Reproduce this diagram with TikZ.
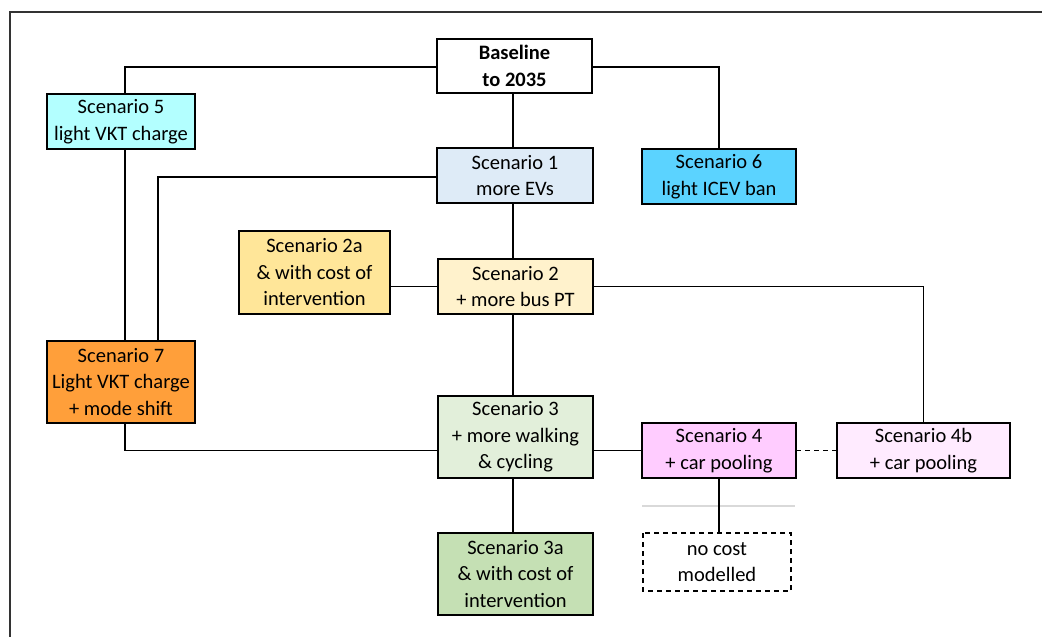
\documentclass[tikz,border=0pt]{standalone}
\usepackage{fontspec}
\setmainfont{Carlito}
\definecolor{cS5}{HTML}{B3FFFF}
\definecolor{cS1}{HTML}{DEEBF7}
\definecolor{cS6}{HTML}{5BD3FF}
\definecolor{cS2a}{HTML}{FFE699}
\definecolor{cS2}{HTML}{FFF2CC}
\definecolor{cS7}{HTML}{FF9F3A}
\definecolor{cS3}{HTML}{E2EFDA}
\definecolor{cS3a}{HTML}{C5E0B4}
\definecolor{cS4}{HTML}{FFCCFF}
\definecolor{cS4b}{HTML}{FFEBFF}
\definecolor{frame}{HTML}{333333}
\definecolor{sep}{HTML}{D9D9D9}
\begin{document}
\begin{tikzpicture}[x=1pt,y=-1pt,
  box/.style={draw=black,line width=2pt,inner sep=0pt,outer sep=0pt,align=center,
    font=\fontsize{20.5}{26.5}\selectfont},
  link/.style={draw=black,line width=1.7pt},
  dlink/.style={draw=black,line width=1.3pt,dash pattern=on 5pt off 4pt}]
\useasboundingbox (0,0) rectangle (1042,637);
\draw[frame,line width=1.8pt] (10,637) -- (10,12) -- (1042,12);
\node[box,fill=white,minimum width=155pt,minimum height=54pt,font=\fontsize{20.5}{26.5}\selectfont\bfseries] (base) at (514.5,66) {Baseline\\to 2035};
\node[box,fill=cS1,minimum width=156pt,minimum height=55pt] (s1) at (515,175.5) {Scenario 1\\more EVs};
\node[box,fill=cS5,minimum width=148pt,minimum height=55pt] (s5) at (121,121.5) {Scenario 5\\light VKT charge};
\node[box,fill=cS6,minimum width=154pt,minimum height=55pt] (s6) at (719,176.5) {Scenario 6\\light ICEV ban};
\node[box,fill=cS2a,minimum width=151pt,minimum height=83pt] (s2a) at (314.5,272.5) {Scenario 2a\\\& with cost of\\intervention};
\node[box,fill=cS2,minimum width=155pt,minimum height=55pt] (s2) at (515.5,286.5) {Scenario 2\\+ more bus PT};
\node[box,fill=cS7,minimum width=148pt,minimum height=82pt] (s7) at (121,382) {Scenario 7\\Light VKT charge\\+ mode shift};
\node[box,fill=cS3,minimum width=155pt,minimum height=82pt] (s3) at (515.5,437) {Scenario 3\\+ more walking\\\& cycling};
\node[box,fill=cS3a,minimum width=155pt,minimum height=82pt] (s3a) at (515.5,574) {Scenario 3a\\\& with cost of\\intervention};
\node[box,fill=cS4,minimum width=154pt,minimum height=55pt] (s4) at (719,450.5) {Scenario 4\\+ car pooling};
\node[box,fill=cS4b,minimum width=173pt,minimum height=55pt] (s4b) at (923.5,450.5) {Scenario 4b\\+ car pooling};
\node[box,draw=none,fill=white,minimum width=148pt,minimum height=58pt] (nc) at (717,562) {no cost\\modelled};
\draw[dlink] (nc.north west) rectangle (nc.south east);
\coordinate (g1) at (642,506);
\coordinate (g2) at (795,506);
\draw[sep,line width=1.5pt] (g1) -- (g2);
% connectors
\draw[link] ([xshift=-1.5pt]base.south) -- ([xshift=-2pt]s1.north);
\draw[link] ([xshift=-2pt]s1.south) -- ([xshift=-2.5pt]s2.north);
\draw[link] ([xshift=-2.5pt]s2.south) -- ([xshift=-2.5pt]s3.north);
\draw[link] ([xshift=-2.5pt]s3.south) -- ([xshift=-2.5pt]s3a.north);
\draw[link] (base.west |- 0,67) -| ([xshift=4pt]s5.north);
\draw[link] (base.east |- 0,67) -| (s6.north);
\draw[link] ([xshift=4pt]s5.south) -- ([xshift=4pt]s7.north);
\draw[link] (s1.west |- 0,177) -| ([xshift=37pt]s7.north);
\draw[link] (s2a.east |- s2.west) -- (s2.west);
\draw[link] (s2.east) -| (s4b.north);
\draw[link] ([xshift=4pt]s7.south) |- (s3.west |- s4.west);
\draw[link] (s3.east |- s4.west) -- (s4.west);
\draw[dlink] (s4.east) -- (s4b.west);
\draw[link] (s4.south) -- (s4.south |- nc.north);
\end{tikzpicture}
\end{document}
